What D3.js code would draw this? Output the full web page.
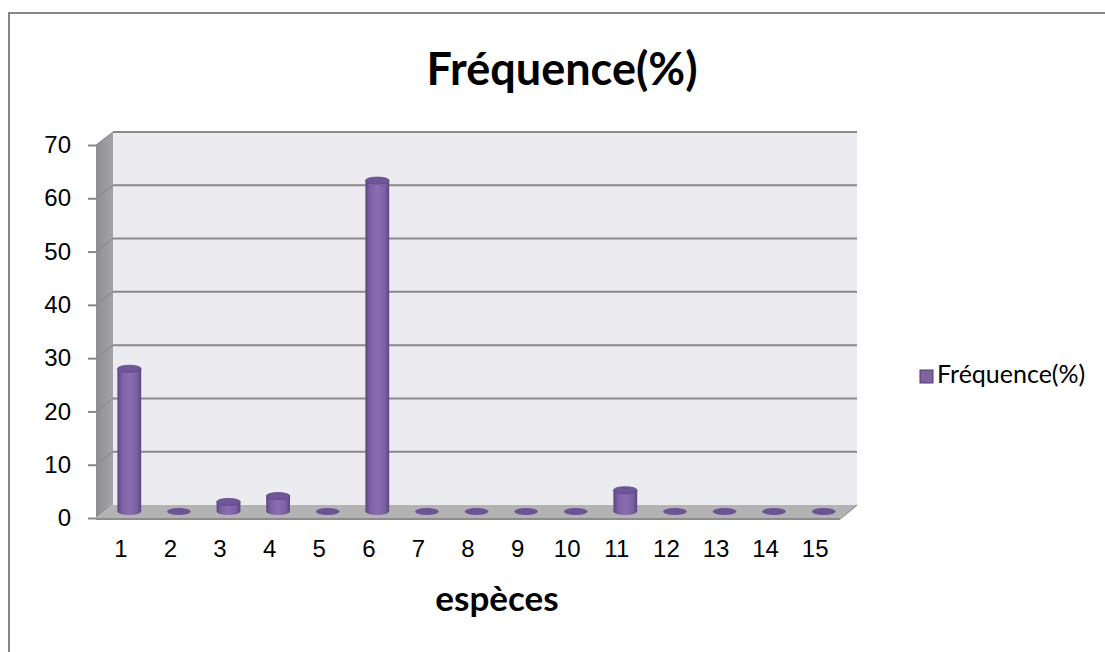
<!DOCTYPE html>
<html>
<head>
<meta charset="utf-8">
<script src="https://cdn.jsdelivr.net/npm/d3@7"></script>
<style>
  body { margin: 0; background: #fff; }
  svg { display: block; }
</style>
</head>
<body>
<div class="chart"></div>
<script>
"use strict";

const categories = ["1", "2", "3", "4", "5", "6", "7", "8", "9", "10", "11", "12", "13", "14", "15"];
const values = [26.8, 0, 1.8, 2.9, 0, 62.1, 0, 0, 0, 0, 4.0, 0, 0, 0, 0];
const yTicks = [0, 10, 20, 30, 40, 50, 60, 70];
const seriesName = "Fréquence(%)";
const chartTitle = "Fréquence(%)";
const xTitle = "espèces";

const width = 1105;
const height = 652;

// 3d depth offset of the back wall
const depth = { dx: 17, dy: -13 };

const data = categories.map((cat, i) => ({ cat: cat, value: values[i] }));

const svg = d3
  .select(".chart")
  .append("svg")
  .attr("width", width)
  .attr("height", height);

const defs = svg.append("defs");

const barGrad = defs
  .append("linearGradient")
  .attr("id", "barGrad")
  .attr("x1", "0").attr("x2", "1").attr("y1", "0").attr("y2", "0");
[
  ["0%", "#5c4582"],
  ["18%", "#7a5fa2"],
  ["50%", "#8a6eb2"],
  ["82%", "#7a5fa2"],
  ["100%", "#5c4582"],
].forEach(([o, c]) => barGrad.append("stop").attr("offset", o).attr("stop-color", c));

const sideGrad = defs
  .append("linearGradient")
  .attr("id", "sideGrad")
  .attr("x1", "0").attr("x2", "1").attr("y1", "0").attr("y2", "0");
sideGrad.append("stop").attr("offset", "0%").attr("stop-color", "#8e8e92");
sideGrad.append("stop").attr("offset", "100%").attr("stop-color", "#a4a4a8");

// chart frame
svg
  .append("rect")
  .attr("x", 9)
  .attr("y", 13)
  .attr("width", 1200)
  .attr("height", 1000)
  .attr("fill", "#fff")
  .attr("stroke", "#868686")
  .attr("stroke-width", 2);

const x = d3.scaleBand().domain(categories).range([96, 840]);
const y = d3.scaleLinear().domain([0, 70]).range([518, 145]);

const [x0, x1] = x.range();
const yTop = y(70);
const yBase = y(0);

// back wall
svg
  .append("rect")
  .attr("x", x0 + depth.dx)
  .attr("y", yTop + depth.dy)
  .attr("width", x1 - x0)
  .attr("height", yBase - yTop)
  .attr("fill", "#ecebf0");

// side wall
svg
  .append("polygon")
  .attr("points", [
    [x0, yTop],
    [x0 + depth.dx, yTop + depth.dy],
    [x0 + depth.dx, yBase + depth.dy],
    [x0, yBase],
  ].join(" "))
  .attr("fill", "url(#sideGrad)");

// grid lines on back and side wall
const grid = svg.append("g").attr("class", "grid");
grid
  .selectAll("line.back")
  .data(yTicks.filter((d) => d > 0))
  .join("line")
  .attr("class", "back")
  .attr("x1", x0 + depth.dx)
  .attr("x2", x1 + depth.dx)
  .attr("y1", (d) => y(d) + depth.dy)
  .attr("y2", (d) => y(d) + depth.dy)
  .attr("stroke", "#8a8a8a")
  .attr("stroke-width", 2);
grid
  .selectAll("line.side")
  .data(yTicks.filter((d) => d > 0))
  .join("line")
  .attr("class", "side")
  .attr("x1", x0)
  .attr("x2", x0 + depth.dx)
  .attr("y1", (d) => y(d))
  .attr("y2", (d) => y(d) + depth.dy)
  .attr("stroke", "#858589")
  .attr("stroke-width", 1);

// floor
svg
  .append("polygon")
  .attr("points", [
    [x0, yBase],
    [x1, yBase],
    [x1 + depth.dx, yBase + depth.dy],
    [x0 + depth.dx, yBase + depth.dy],
  ].join(" "))
  .attr("fill", "#b3b3b3");
svg
  .append("line")
  .attr("x1", x0)
  .attr("x2", x1)
  .attr("y1", yBase + 1)
  .attr("y2", yBase + 1)
  .attr("stroke", "#8c8c8c")
  .attr("stroke-width", 2);
svg
  .append("line")
  .attr("x1", x1)
  .attr("x2", x1 + depth.dx)
  .attr("y1", yBase + 1)
  .attr("y2", yBase + depth.dy)
  .attr("stroke", "#9a9a9a")
  .attr("stroke-width", 1.5);

// y axis (tick marks left of the side wall)
const yAxis = d3
  .axisLeft(y)
  .tickValues(yTicks)
  .tickSize(8)
  .tickSizeOuter(0)
  .tickPadding(17);

svg
  .append("g")
  .attr("class", "axis y-axis")
  .attr("transform", `translate(${x0}, 0)`)
  .call(yAxis)
  .call((g) => g.select(".domain").remove())
  .call((g) => g.selectAll(".tick line").attr("stroke", "#868686").attr("stroke-width", 2))
  .call((g) =>
    g
      .selectAll(".tick text")
      .attr("fill", "#000")
      .attr("font-family", "Liberation Sans, Arial, sans-serif")
      .attr("font-size", "24px")
  );

// x axis labels
const xAxis = d3.axisBottom(x).tickSize(0).tickPadding(22);
svg
  .append("g")
  .attr("class", "axis x-axis")
  .attr("transform", `translate(0, ${yBase})`)
  .call(xAxis)
  .call((g) => g.select(".domain").remove())
  .call((g) =>
    g
      .selectAll(".tick text")
      .attr("fill", "#000")
      .attr("font-family", "Liberation Sans, Arial, sans-serif")
      .attr("font-size", "24px")
  );

// cylinders, sitting at mid depth
const rx = x.bandwidth() * 0.24;
const ry = 3.5;
const mid = { dx: depth.dx / 2, dy: depth.dy / 2 };
const cx = (d) => x(d.cat) + x.bandwidth() / 2 + mid.dx;

const bars = svg
  .append("g")
  .attr("class", "bars")
  .selectAll("g")
  .data(data)
  .join("g");

bars
  .append("ellipse")
  .attr("cx", cx)
  .attr("cy", yBase + mid.dy)
  .attr("rx", rx)
  .attr("ry", ry)
  .attr("fill", (d) => (d.value > 0 ? "url(#barGrad)" : "#6b5396"));

const filled = bars.filter((d) => d.value > 0);

filled
  .append("rect")
  .attr("x", (d) => cx(d) - rx)
  .attr("y", (d) => y(d.value) + mid.dy)
  .attr("width", rx * 2)
  .attr("height", (d) => yBase - y(d.value))
  .attr("fill", "url(#barGrad)");

filled
  .append("ellipse")
  .attr("cx", cx)
  .attr("cy", (d) => y(d.value) + mid.dy)
  .attr("rx", rx)
  .attr("ry", ry)
  .attr("fill", "#6f5699")
  .attr("stroke", "#5d4784")
  .attr("stroke-width", 0.8);

// title
svg
  .append("text")
  .attr("x", 562)
  .attr("y", 85)
  .attr("text-anchor", "middle")
  .attr("font-family", "Lato, sans-serif")
  .attr("font-weight", 700)
  .attr("font-size", "45px")
  .text(chartTitle);

// x axis title
svg
  .append("text")
  .attr("x", 497)
  .attr("y", 611)
  .attr("text-anchor", "middle")
  .attr("font-family", "Lato, sans-serif")
  .attr("font-weight", 700)
  .attr("font-size", "35px")
  .text(xTitle);

// legend
const legend = svg.append("g").attr("class", "legend").attr("transform", "translate(920, 370)");
legend
  .append("rect")
  .attr("width", 13)
  .attr("height", 13)
  .attr("fill", "#8064a2")
  .attr("stroke", "#4f3b6b")
  .attr("stroke-width", 1);
legend
  .append("text")
  .attr("x", 17)
  .attr("y", 13)
  .attr("font-family", "Lato, sans-serif")
  .attr("font-size", "25px")
  .text(seriesName);
</script>
</body>
</html>
